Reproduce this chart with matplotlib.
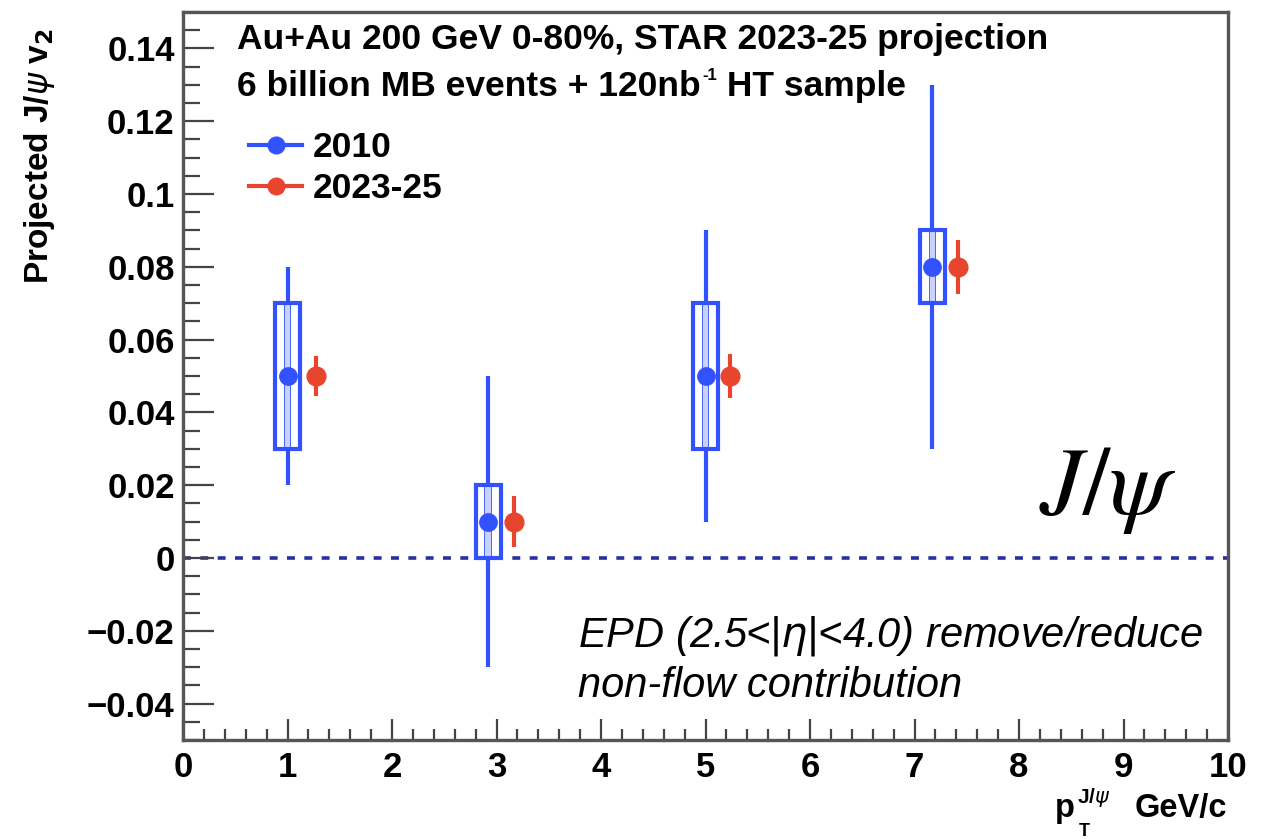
import matplotlib
matplotlib.use("Agg")
import matplotlib.pyplot as plt
from matplotlib.patches import Rectangle
from matplotlib.lines import Line2D
from matplotlib.ticker import MultipleLocator, FuncFormatter

# ---- data ----
pt_2010 = [1.0, 2.92, 5.0, 7.17]
v2_2010 = [0.05, 0.01, 0.05, 0.08]
stat_2010 = [0.03, 0.04, 0.04, 0.05]
sys_2010 = [0.02, 0.01, 0.02, 0.01]

pt_2023 = [1.27, 3.17, 5.23, 7.42]
v2_2023 = [0.05, 0.01, 0.05, 0.08]
stat_2023 = [0.0055, 0.007, 0.006, 0.0075]

x_ticks = [0, 1, 2, 3, 4, 5, 6, 7, 8, 9, 10]
y_ticks = [-0.04, -0.02, 0, 0.02, 0.04, 0.06, 0.08, 0.1, 0.12, 0.14]

BLUE = "#3352ff"
RED = "#e8452f"
LIGHTBLUE = "#c9d1ff"
FONT = "Liberation Sans"

W, H = 1274, 839
fig = plt.figure(figsize=(W / 100, H / 100), dpi=100)
ax = fig.add_axes([183 / W, 1 - 740 / H, (1228 - 183) / W, (740 - 12) / H])
ax.set_xlim(0, 10)
ax.set_ylim(-0.05, 0.15)

# zero line
ax.axhline(0, color="#2b2f9e", lw=2.6, ls=(0, (2.2, 2.6)), zorder=1)

box_hw = 0.12
# 2010 stat bars
ax.errorbar(pt_2010, v2_2010, yerr=stat_2010, fmt="none", ecolor=BLUE,
            elinewidth=3.0, capsize=0, zorder=3)
# 2010 sys boxes
for x, y, s in zip(pt_2010, v2_2010, sys_2010):
    inner = Rectangle((x - 0.035, y - s), 0.07, 2 * s, facecolor=LIGHTBLUE,
                      edgecolor=BLUE, lw=1.2, zorder=4)
    ax.add_patch(inner)
    gapl = Rectangle((x - box_hw, y - s), box_hw - 0.035, 2 * s, facecolor="white",
                     edgecolor="none", zorder=4)
    gapr = Rectangle((x + 0.035, y - s), box_hw - 0.035, 2 * s, facecolor="white",
                     edgecolor="none", zorder=4)
    ax.add_patch(gapl)
    ax.add_patch(gapr)
    box = Rectangle((x - box_hw, y - s), 2 * box_hw, 2 * s, fill=False,
                    edgecolor=BLUE, lw=3.0, zorder=5)
    ax.add_patch(box)
ax.plot(pt_2010, v2_2010, "o", color=BLUE, ms=12.5, mec=BLUE, zorder=6, ls="none")

# 2023-25 points
ax.errorbar(pt_2023, v2_2023, yerr=stat_2023, fmt="o", color=RED, ecolor=RED,
            elinewidth=3.0, ms=13.5, capsize=0, zorder=6)

# axes styling
for side in ["left", "bottom", "right", "top"]:
    ax.spines[side].set_color("#555555")
    ax.spines[side].set_linewidth(2.4)

ax.set_xticks(x_ticks)
ax.set_yticks(y_ticks)
ax.xaxis.set_minor_locator(MultipleLocator(0.2))
ax.yaxis.set_minor_locator(MultipleLocator(0.005))

def yfmt(v, pos):
    if abs(v) < 1e-9:
        return "0"
    s = ("%.2f" % v).rstrip("0")
    return s.replace("-", "\u2212")

ax.yaxis.set_major_formatter(FuncFormatter(yfmt))
ax.tick_params(axis="both", which="both", direction="in", color="#444444",
               width=1.6, top=False, right=False)
ax.tick_params(axis="y", which="major", length=22, pad=6)
ax.tick_params(axis="y", which="minor", length=12)
ax.tick_params(axis="x", which="major", length=15, pad=8)
ax.tick_params(axis="x", which="minor", length=8)
for lab in ax.get_xticklabels() + ax.get_yticklabels():
    lab.set_fontfamily(FONT)
    lab.set_fontweight("bold")
    lab.set_fontsize(25)

# header texts
TSIZE = 25.5
ax.text((237 - 183) / 1045, 1 - (40 - 12) / 728,
        "Au+Au 200 GeV 0-80%, STAR 2023-25 projection",
        transform=ax.transAxes, fontsize=TSIZE, fontweight="bold", family=FONT,
        ha="left", va="center")
t2 = fig.text(237 / W, 1 - 96 / H, "6 billion MB events + 120nb",
              fontsize=TSIZE, fontweight="bold", family=FONT,
              ha="left", va="baseline")
sup = ax.annotate("-1", xy=(1, 1), xycoords=t2, xytext=(1.5, 1.5),
                  textcoords="offset points", fontsize=12, fontweight="bold",
                  family=FONT, ha="left", va="top")
ax.annotate(" HT sample", xy=(1, 0), xycoords=(sup, t2), xytext=(0, 0),
            textcoords="offset points", fontsize=TSIZE, fontweight="bold",
            family=FONT, ha="left", va="bottom")

handles = [Line2D([], [], color=BLUE, marker="o", ms=12, lw=3),
           Line2D([], [], color=RED, marker="o", ms=12, lw=3)]
leg = ax.legend(handles, ["2010", "2023-25"], loc="upper left",
                bbox_to_anchor=((249 - 183) / 1045, 1 - (131 - 12) / 728),
                frameon=False, borderpad=0, borderaxespad=0,
                handlelength=1.5, handletextpad=0.3, labelspacing=0.24,
                prop={"family": FONT, "weight": "bold", "size": 25.5})

fig.text(578 / W, 1 - 636 / H, r"EPD (2.5<|$\eta$|<4.0) remove/reduce",
         fontsize=30, style="italic", family=FONT, ha="left", va="center")
fig.text(578 / W, 1 - 686 / H, "non-flow contribution",
         fontsize=30, style="italic", family=FONT, ha="left", va="center")

fig.text(1108 / W, 1 - 490 / H, r"$J/\psi$", fontsize=70, ha="center",
         va="center", math_fontfamily="stix")

fig.text(40 / W, 1 - 28 / H, r"Projected J/$\psi$ v$_{\mathbf{2}}$", rotation=90,
         fontsize=24, fontweight="bold", family=FONT, ha="center", va="top")

# x-axis title  p_T^{J/psi} GeV/c
fig.text(1227 / W, 1 - 817 / H, "GeV/c", fontsize=23.5, fontweight="bold",
         family=FONT, ha="right", va="baseline")
fig.text(1055 / W, 1 - 817 / H, "p", fontsize=23.5, fontweight="bold",
         family=FONT, ha="left", va="baseline")
fig.text(1077 / W, 1 - 803 / H, r"J/$\psi$", fontsize=15, fontweight="bold",
         family=FONT, ha="left", va="baseline")
fig.text(1079 / W, 1 - 836 / H, "T", fontsize=13, fontweight="bold",
         family=FONT, ha="left", va="baseline")

fig.savefig("out.png", dpi=100)
